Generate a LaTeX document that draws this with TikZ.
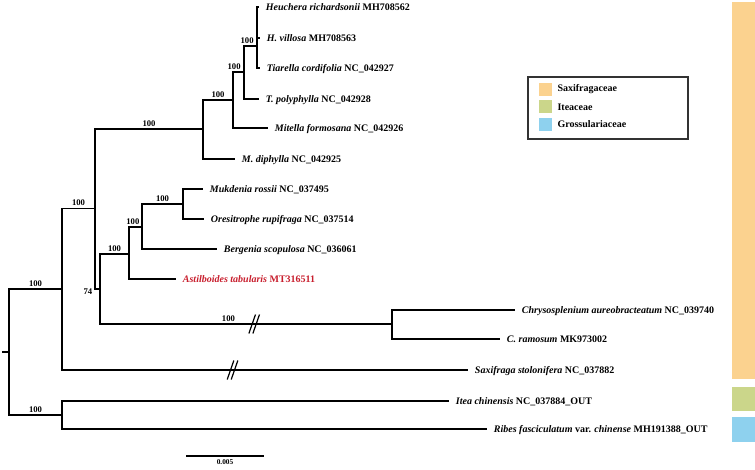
\documentclass[tikz,border=0pt]{standalone}
\usepackage{fontspec}
\setmainfont{Liberation Serif}
\usetikzlibrary{positioning}
\definecolor{saxcol}{RGB}{251,210,143}
\definecolor{itecol}{RGB}{203,214,138}
\definecolor{grocol}{RGB}{142,209,238}
\definecolor{redlab}{RGB}{200,30,45}
\tikzset{
    branch/.style={line width=1.1pt},
    taxon/.style={anchor=west, inner xsep=5pt, inner ysep=0pt, text height=5pt, text depth=0pt,
        font=\fontsize{7.5}{9}\selectfont\bfseries},
    boot/.style={inner sep=1.5pt, font=\fontsize{6.5}{7.5}\selectfont\bfseries},
    cutmark/.style={line width=0.9pt},
    legbox/.style={draw=black!80, line width=0.8pt, minimum width=120pt, minimum height=46.5pt},
    swatch/.style={minimum size=9.75pt, inner sep=0pt},
    legtext/.style={inner sep=0pt, font=\fontsize{7.5}{9}\selectfont\bfseries},
}

\begin{document}
\begin{tikzpicture}[x=0.75pt,y=-0.75pt]
\useasboundingbox (0,0) rectangle (755,470);

\fill[saxcol] (732,2) rectangle (755,379);
\fill[itecol] (732,387) rectangle (755,411);
\fill[grocol] (732,417) rectangle (755,442);

\node[legbox] (leg) at (608,108) {};
\node[swatch, fill=saxcol] (sw1) at (545.5,89.5) {};
\node[swatch, fill=itecol] (sw2) at (545.5,107) {};
\node[swatch, fill=grocol] (sw3) at (545.5,124.5) {};
\node[legtext, right=3.75pt of sw1] (lg1) {Saxifragaceae};
\node[legtext, right=3.75pt of sw2] (lg2) {Iteaceae};
\node[legtext, right=3.75pt of sw3] (lg3) {Grossulariaceae};

\coordinate (stub) at (2,352);
\coordinate (root) at (9,352);
\coordinate (ing) at (62,289);
\coordinate (out) at (62,415);
\coordinate (big) at (95,208.5);
\coordinate (hA) at (203,129);
\coordinate (hB) at (233,100);
\coordinate (hC) at (244,72);
\coordinate (hD) at (257,46);
\coordinate (aH) at (100,289);
\coordinate (aG) at (129,254);
\coordinate (aF) at (142,227);
\coordinate (aE) at (183,204);
\coordinate (cI) at (392,324);

\node[taxon] (heu) at (259,7) {\textit{Heuchera richardsonii} MH708562};
\node[taxon] (hvi) at (260,38) {\textit{H. villosa} MH708563};
\node[taxon] (tco) at (260,68) {\textit{Tiarella cordifolia} NC\_042927};
\node[taxon] (tpo) at (259,99) {\textit{T. polyphylla} NC\_042928};
\node[taxon] (mfo) at (268,128) {\textit{Mitella formosana} NC\_042926};
\node[taxon] (mdi) at (235,159) {\textit{M. diphylla} NC\_042925};
\node[taxon] (mro) at (203,189) {\textit{Mukdenia rossii} NC\_037495};
\node[taxon] (oru) at (204,219) {\textit{Oresitrophe rupifraga} NC\_037514};
\node[taxon] (bsc) at (217,249) {\textit{Bergenia scopulosa} NC\_036061};
\node[taxon, text=redlab] (ata) at (176,279) {\textit{Astilboides tabularis} MT316511};
\node[taxon] (cau) at (515,310) {\textit{Chrysosplenium aureobracteatum} NC\_039740};
\node[taxon] (cra) at (500,339) {\textit{C. ramosum} MK973002};
\node[taxon] (sst) at (468,370) {\textit{Saxifraga stolonifera} NC\_037882};
\node[taxon] (ich) at (449,401) {\textit{Itea chinensis} NC\_037884\_OUT};
\node[taxon] (rfa) at (487,429) {\textit{Ribes fasciculatum} var. \textit{chinense} MH191388\_OUT};

\draw[branch] (stub) -- (root);
\draw[branch] (root) |- (ing) node[boot, pos=0.75, above] {100};
\draw[branch] (root) |- (out) node[boot, pos=0.75, above] {100};
\draw[branch] (ing) |- (big) node[boot, pos=0.75, above] {100};
\draw[branch] (ing) |- (sst.west) coordinate[pos=0.71] (cut2);
\draw[branch] (out) |- (ich.west);
\draw[branch] (out) |- (rfa.west);
\draw[branch] (big) |- (hA) node[boot, pos=0.75, above] {100};
\draw[branch] (big) |- (aH) node[boot, pos=0.5, left, yshift=-2pt] {74};
\draw[branch] (hA) |- (mdi.west);
\draw[branch] (hA) |- (hB) node[boot, pos=0.75, above] {100};
\draw[branch] (hB) |- (mfo.west);
\draw[branch] (hB) |- (hC) node[boot, pos=0.55, above] {100};
\draw[branch] (hC) |- (tpo.west);
\draw[branch] (hC) |- (hD) node[boot, pos=0.62, above] {100};
\foreach \t in {heu,hvi,tco}
    \draw[branch] (hD) |- (\t.west);
\draw[branch] (aH) |- (aG) node[boot, pos=0.75, above] {100};
\draw[branch] (aH) |- (cI) node[boot, pos=0.72, above] {100} coordinate[pos=0.764] (cut1);
\draw[branch] (aG) |- (ata.west);
\draw[branch] (aG) |- (aF) node[boot, pos=0.65, above] {100};
\draw[branch] (aF) |- (bsc.west);
\draw[branch] (aF) |- (aE) node[boot, pos=0.75, above] {100};
\draw[branch] (aE) |- (mro.west);
\draw[branch] (aE) |- (oru.west);
\draw[branch] (cI) |- (cau.west);
\draw[branch] (cI) |- (cra.west);

\foreach \c in {cut1,cut2}
    \foreach \d in {-2,2}
        \draw[cutmark] ([shift={(\d-3.3,9.5)}]\c) -- ([shift={(\d+3.3,-9.5)}]\c);

\coordinate (sb1) at (186,456);
\coordinate (sb2) at (264,456);
\draw[line width=0.9pt] (sb1) -- (sb2) node[midway, below=2.5pt, inner sep=0pt, font=\fontsize{5.5}{6.5}\selectfont\bfseries] (sbl) {0.005};
\end{tikzpicture}
\end{document}
